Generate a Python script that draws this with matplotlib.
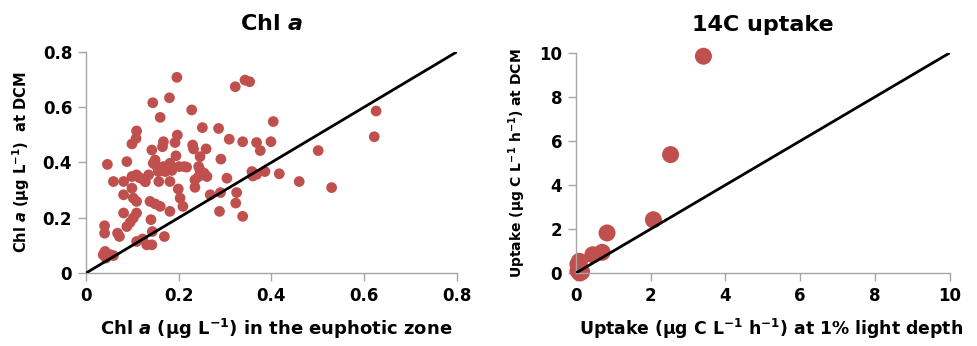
import numpy as np
import matplotlib
matplotlib.use("Agg")
import matplotlib.pyplot as plt

plt.rcParams['font.family'] = 'DejaVu Sans'
plt.rcParams['font.weight'] = 'bold'
plt.rcParams['mathtext.fontset'] = 'custom'
plt.rcParams['mathtext.rm'] = 'DejaVu Sans:bold'
plt.rcParams['mathtext.it'] = 'DejaVu Sans:bold:italic'

# Chl a: euphotic zone (x) vs DCM (y)
chl_eu = [0.322, 0.343, 0.353, 0.196, 0.144, 0.180, 0.228, 0.160, 0.626, 0.622,
          0.404, 0.109, 0.108, 0.197, 0.251, 0.286, 0.309, 0.338, 0.368, 0.399,
          0.376, 0.501, 0.167, 0.165, 0.192, 0.230, 0.232, 0.259, 0.246, 0.099,
          0.142, 0.046, 0.088, 0.149, 0.194, 0.153, 0.167, 0.181, 0.201, 0.217,
          0.243, 0.291, 0.145, 0.156, 0.171, 0.185, 0.246, 0.255, 0.417, 0.358,
          0.368, 0.386, 0.360, 0.304, 0.099, 0.109, 0.124, 0.135, 0.081, 0.059,
          0.157, 0.181, 0.235, 0.243, 0.261, 0.235, 0.460, 0.530, 0.325, 0.290,
          0.268, 0.099, 0.081, 0.102, 0.109, 0.199, 0.203, 0.209, 0.138, 0.149,
          0.160, 0.323, 0.181, 0.288, 0.338, 0.081, 0.109, 0.102, 0.095, 0.088,
          0.140, 0.040, 0.040, 0.068, 0.072, 0.143, 0.169, 0.109, 0.122, 0.131,
          0.142, 0.041, 0.052, 0.059, 0.043, 0.037, 0.115, 0.128, 0.175, 0.212]
chl_dcm = [0.674, 0.698, 0.692, 0.708, 0.616, 0.634, 0.590, 0.563, 0.586, 0.493,
           0.548, 0.514, 0.487, 0.499, 0.526, 0.523, 0.484, 0.475, 0.472, 0.475,
           0.443, 0.443, 0.475, 0.457, 0.472, 0.463, 0.449, 0.449, 0.421, 0.467,
           0.445, 0.393, 0.403, 0.409, 0.424, 0.385, 0.385, 0.397, 0.385, 0.383,
           0.385, 0.412, 0.397, 0.367, 0.367, 0.371, 0.373, 0.361, 0.359, 0.367,
           0.357, 0.367, 0.351, 0.343, 0.349, 0.355, 0.337, 0.355, 0.331, 0.331,
           0.331, 0.331, 0.337, 0.349, 0.349, 0.310, 0.331, 0.309, 0.291, 0.291,
           0.283, 0.307, 0.283, 0.271, 0.259, 0.304, 0.271, 0.241, 0.259, 0.250,
           0.241, 0.253, 0.223, 0.223, 0.205, 0.217, 0.217, 0.199, 0.183, 0.168,
           0.193, 0.171, 0.144, 0.144, 0.132, 0.150, 0.132, 0.114, 0.123, 0.102,
           0.102, 0.078, 0.066, 0.063, 0.054, 0.066, 0.345, 0.330, 0.380, 0.385]

# 14C uptake: 1% light depth (x) vs DCM (y)
up_light = [3.41, 2.53, 2.07, 0.83, 0.70, 0.45, 0.09, 0.05, 0.10, 0.05, 0.15, 0.10]
up_dcm = [9.85, 5.38, 2.42, 1.82, 0.94, 0.83, 0.53, 0.40, 0.25, 0.10, 0.05, 0.00]

red = '#C0504D'
grey = '#A6A6A6'

fig = plt.figure(figsize=(9.78, 3.46), dpi=100)
ax1 = fig.add_axes([0.088, 0.211, 0.379, 0.639])
ax2 = fig.add_axes([0.589, 0.211, 0.382, 0.636])


def style(ax, lim, ticks, ticklabels):
    ax.set_xlim(0, lim)
    ax.set_ylim(0, lim)
    ax.set_xticks(ticks)
    ax.set_yticks(ticks)
    ax.set_xticklabels(ticklabels)
    ax.set_yticklabels(ticklabels)
    for s in ['top', 'right']:
        ax.spines[s].set_visible(False)
    for s in ['left', 'bottom']:
        ax.spines[s].set_color(grey)
        ax.spines[s].set_linewidth(1.0)
    ax.tick_params(direction='out', length=6, color=grey, width=1,
                   labelsize=12, pad=4)
    for lab in ax.get_xticklabels() + ax.get_yticklabels():
        lab.set_fontweight('bold')
    ax.plot([0, lim], [0, lim], color='black', lw=2, zorder=3)


style(ax1, 0.8, [0, 0.2, 0.4, 0.6, 0.8], ['0', '0.2', '0.4', '0.6', '0.8'])
ax1.scatter(chl_eu, chl_dcm, s=60, color=red, edgecolors='none', zorder=2, clip_on=False)
ax1.set_title(r'Chl $a$', fontsize=16, fontweight='bold', pad=16)
ax1.set_xlabel(r'Chl $a$ (μg L$^{\mathrm{-1}}$) in the euphotic zone', fontsize=13,
               fontweight='bold')
ax1.xaxis.set_label_coords(0.513, -0.2)
ax1.set_ylabel(r'Chl $a$ (μg L$^{\mathrm{-1}}$)  at DCM', fontsize=10.5,
               fontweight='bold', labelpad=8)

style(ax2, 10, [0, 2, 4, 6, 8, 10], ['0', '2', '4', '6', '8', '10'])
ax2.scatter(up_light, up_dcm, s=150, color=red, edgecolors='none', zorder=2, clip_on=False)
ax2.set_title('14C uptake', fontsize=16, fontweight='bold', pad=16)
ax2.set_xlabel(r'Uptake (μg C L$^{\mathrm{-1}}$ h$^{\mathrm{-1}}$) at 1% light depth', fontsize=12.4,
               fontweight='bold', ha='left')
ax2.xaxis.set_label_coords(0.008, -0.2)
ax2.set_ylabel(r'Uptake (μg C L$^{\mathrm{-1}}$ h$^{\mathrm{-1}}$) at DCM', fontsize=10,
               fontweight='bold', labelpad=8)

fig.savefig('out.png', dpi=100)
